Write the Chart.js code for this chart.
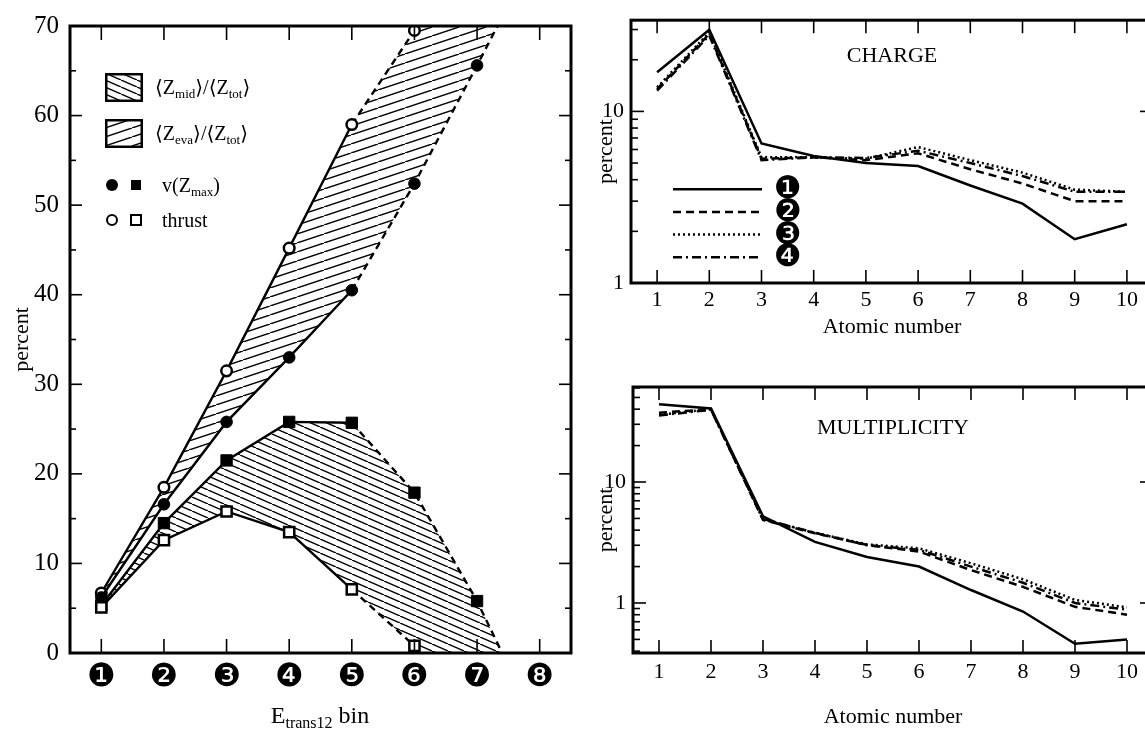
<!DOCTYPE html>
<html><head><meta charset="utf-8">
<script src="https://cdn.jsdelivr.net/npm/chart.js@4.4.1/dist/chart.umd.min.js"></script>
<style>
html,body{margin:0;padding:0;background:#fff;width:1145px;height:734px;overflow:hidden;position:relative;font-family:"Liberation Serif","DejaVu Serif",serif;color:#000;}
.box{position:absolute;}
.lt{position:absolute;font-size:20px;line-height:24px;white-space:nowrap;}
.lt sub{font-size:13px;vertical-align:-4px;line-height:0;}
.mk{position:absolute;box-sizing:border-box;}
.ttl{position:absolute;text-align:center;white-space:nowrap;}
</style></head><body>
<div class="box" style="left:0;top:0;width:590px;height:734px"><canvas id="cL"></canvas></div>
<div class="box" style="left:560px;top:0;width:600px;height:340px"><canvas id="cT"></canvas></div>
<div class="box" style="left:560px;top:360px;width:600px;height:374px"><canvas id="cB"></canvas></div>

<canvas id="sw1" width="38" height="29" style="position:absolute;left:105px;top:73px"></canvas>
<canvas id="sw2" width="38" height="29" style="position:absolute;left:105px;top:119px"></canvas>
<div class="lt" style="left:155px;top:75px">⟨Z<sub>mid</sub>⟩/⟨Z<sub>tot</sub>⟩</div>
<div class="lt" style="left:155px;top:121px">⟨Z<sub>eva</sub>⟩/⟨Z<sub>tot</sub>⟩</div>
<div class="mk" style="left:106px;top:179px;width:12px;height:12px;border-radius:50%;background:#000"></div>
<div class="mk" style="left:131px;top:180px;width:10px;height:10px;background:#000"></div>
<div class="lt" style="left:162px;top:173px">v(Z<sub>max</sub>)</div>
<div class="mk" style="left:106px;top:214px;width:12px;height:12px;border-radius:50%;border:2.5px solid #000;background:#fff"></div>
<div class="mk" style="left:130px;top:214px;width:12px;height:12px;border:2.5px solid #000;background:#fff"></div>
<div class="lt" style="left:162px;top:208px">thrust</div>
<div class="ttl" style="left:220px;width:200px;top:701px;font-size:24px;line-height:28px">E<sub style="font-size:16px;vertical-align:-5px;line-height:0">trans12</sub> bin</div>
<div class="ttl" style="left:792px;width:200px;top:42px;font-size:22px;line-height:26px">CHARGE</div>
<div class="ttl" style="left:793px;width:200px;top:414px;font-size:22px;line-height:26px">MULTIPLICITY</div>

<script>
// ---------- data: left panel ----------
const bins = [1, 2, 3, 4, 5, 6, 7, 8];
const binLabels = ['❶', '❷', '❸', '❹', '❺', '❻', '❼', '❽'];
const yTicksLeft = [0, 10, 20, 30, 40, 50, 60, 70];
const yMinorLeft = [5, 15, 25, 35, 45, 55, 65];
const thrustCircle = [6.7, 18.5, 31.5, 45.2, 59.0, 69.5];
const thrustCircleEdge = [[7.4, 88]];
const vmaxCircle = [6.2, 16.6, 25.8, 33.0, 40.5, 52.4, 65.6];
const vmaxCircleEdge = [[7.4, 71]];
const vmaxSquare = [5.3, 14.5, 21.5, 25.8, 25.7, 17.9, 5.8];
const vmaxSquareEdge = [[7.4, 0]];
const thrustSquare = [5.1, 12.6, 15.8, 13.5, 7.1, 0.8];
const thrustSquareEdge = [[6.1, 0], [7.4, 0]];

// ---------- data: right panels ----------
const atomicNumbers = [1, 2, 3, 4, 5, 6, 7, 8, 9, 10];
const lineLabels = ['❶', '❷', '❸', '❹'];
const logLabels = [0.1, 1, 10, 100];
const charge1 = [16.9, 29.9, 6.5, 5.5, 5.0, 4.8, 3.7, 2.9, 1.8, 2.2];
const charge2 = [13.5, 28.3, 5.3, 5.4, 5.2, 5.7, 4.6, 3.8, 3.0, 3.0];
const charge3 = [13.8, 28.9, 5.4, 5.4, 5.3, 6.2, 5.2, 4.4, 3.5, 3.4];
const charge4 = [13.2, 27.7, 5.2, 5.4, 5.35, 5.9, 5.0, 4.2, 3.4, 3.4];
const mult1 = [43.9, 40.6, 5.2, 3.2, 2.4, 2.0, 1.28, 0.85, 0.46, 0.50];
const mult2 = [37.4, 40.0, 4.85, 3.77, 3.02, 2.66, 1.87, 1.36, 0.93, 0.80];
const mult3 = [36.0, 40.0, 4.9, 3.8, 3.05, 2.83, 2.13, 1.57, 1.06, 0.92];
const mult4 = [35.5, 39.5, 4.95, 3.8, 3.0, 2.75, 2.0, 1.47, 1.0, 0.88];

const SERIF = 'Liberation Serif';
const BLACK = '#000';
const NONE = 'rgba(0,0,0,0)';

function hatchTile(w, h, dir) {
  const c = document.createElement('canvas'); c.width = w; c.height = h;
  const g = c.getContext('2d'); g.strokeStyle = BLACK; g.lineWidth = 1.4; g.beginPath();
  for (let k = -1; k <= 1; k++) {
    if (dir === 'up') { g.moveTo(k * w, h); g.lineTo(k * w + w, 0); }
    else { g.moveTo(k * w, 0); g.lineTo(k * w + w, h); }
  }
  g.stroke(); return c;
}
const tileUp = hatchTile(27, 9, 'up');
const tileDown = hatchTile(16, 7, 'down');
function swatch(id, tile) {
  const c = document.getElementById(id), g = c.getContext('2d');
  g.fillStyle = '#fff'; g.fillRect(0, 0, c.width, c.height);
  g.fillStyle = g.createPattern(tile, 'repeat'); g.fillRect(0, 0, c.width, c.height);
  g.lineWidth = 2.5; g.strokeStyle = BLACK; g.strokeRect(1.25, 1.25, c.width - 2.5, c.height - 2.5);
}
swatch('sw1', tileDown); swatch('sw2', tileUp);

function logMinor(min, max) {
  const out = [];
  for (let e = -2; e <= 3; e++) for (let m = 2; m <= 9; m++) { const v = m * Math.pow(10, e); if (v >= min && v <= max) out.push(v); }
  return out;
}

const framePlugin = {
  id: 'frame',
  afterDatasetsDraw(chart, args, o) {
    const { ctx, chartArea: a, scales: { x, y } } = chart;
    ctx.save(); ctx.strokeStyle = BLACK; ctx.lineWidth = 1.6;
    const seg = (x1, y1, x2, y2) => { ctx.beginPath(); ctx.moveTo(x1, y1); ctx.lineTo(x2, y2); ctx.stroke(); };
    for (const v of o.xTicks) { const p = x.getPixelForValue(v); seg(p, a.bottom, p, a.bottom - o.xLen); seg(p, a.top, p, a.top + o.xLen); }
    for (const [vals, len] of [[o.yMajor, o.majorLen], [o.yMinor, o.minorLen]]) {
      for (const v of vals) { const p = y.getPixelForValue(v); seg(a.left, p, a.left + len, p); seg(a.right, p, a.right - len, p); }
    }
    ctx.lineWidth = o.frameWidth; ctx.strokeRect(a.left, a.top, a.right - a.left, a.bottom - a.top);
    ctx.restore();
  }
};

const lineLegend = {
  id: 'lineLegend',
  afterDatasetsDraw(chart, args, o) {
    if (!o.show) return;
    const { ctx, chartArea: a } = chart;
    chart.data.datasets.forEach((ds, i) => {
      const yy = a.top + o.top + i * o.step;
      ctx.save(); ctx.strokeStyle = BLACK; ctx.lineWidth = ds.borderWidth; ctx.setLineDash(ds.borderDash || []);
      ctx.beginPath(); ctx.moveTo(a.left + o.left, yy); ctx.lineTo(a.left + o.left + o.len, yy); ctx.stroke();
      ctx.setLineDash([]); ctx.fillStyle = BLACK; ctx.font = '31px "DejaVu Sans"'; ctx.textAlign = 'center'; ctx.textBaseline = 'middle';
      ctx.fillText(ds.label, a.left + o.textX, yy + 1);
      ctx.restore();
    });
  }
};

function pts(xs, vals, edge) { return vals.map((v, i) => ({ x: xs[i], y: v })).concat(edge.map(([x, y]) => ({ x, y }))); }
const dashAfter5 = c => (c.p0.parsed.x >= 5 ? [7, 5] : undefined);

Chart.defaults.font.family = SERIF;
Chart.defaults.color = BLACK;

// ---------- left chart ----------
const cL = document.getElementById('cL');
const gL = cL.getContext('2d');
const patUp = gL.createPattern(tileUp, 'repeat');
const patDown = gL.createPattern(tileDown, 'repeat');

function lineDs(label, data, nReal, style, extra) {
  return Object.assign({
    label, data, borderColor: BLACK, borderWidth: 2.4, tension: 0, fill: false,
    pointRadius: c => (c.dataIndex < nReal ? style.r : 0),
    pointStyle: style.shape, pointBackgroundColor: style.bg, pointBorderColor: BLACK,
    pointBorderWidth: style.bw, segment: { borderDash: dashAfter5 }
  }, extra || {});
}
function bandDs(label, data, fill) {
  return { label, data, borderWidth: 0, borderColor: NONE, pointRadius: 0, tension: 0, fill: fill || false };
}

const thrustCirclePts = pts(bins, thrustCircle, thrustCircleEdge);
const vmaxCirclePts = pts(bins, vmaxCircle, vmaxCircleEdge);
const vmaxSquarePts = pts(bins, vmaxSquare, vmaxSquareEdge);
const thrustSquarePts = pts(bins, thrustSquare, thrustSquareEdge);

new Chart(cL, {
  type: 'line',
  data: {
    datasets: [
      lineDs('thrust (squares)', thrustSquarePts, thrustSquare.length,
        { r: 7.2, shape: 'rect', bg: '#fff', bw: 2.5 },
        { segment: { borderDash: dashAfter5, borderColor: c => (c.p0.parsed.x >= 6 ? NONE : BLACK) } }),
      lineDs('v(Zmax) (squares)', vmaxSquarePts, vmaxSquare.length, { r: 8, shape: 'rect', bg: BLACK, bw: 1 }),
      lineDs('v(Zmax) (circles)', vmaxCirclePts, vmaxCircle.length, { r: 5.8, shape: 'circle', bg: BLACK, bw: 1 }),
      lineDs('thrust (circles)', thrustCirclePts, thrustCircle.length, { r: 5.3, shape: 'circle', bg: '#fff', bw: 2.5 }),
      bandDs('Zeva band', thrustCirclePts, { target: 5, above: patUp, below: patUp }),
      bandDs('Zeva band base', vmaxCirclePts),
      bandDs('Zmid band', vmaxSquarePts, { target: 7, above: patDown, below: patDown }),
      bandDs('Zmid band base', thrustSquarePts)
    ]
  },
  options: {
    responsive: true, maintainAspectRatio: false, animation: false, events: [],
    layout: { padding: { top: 21, right: 19, bottom: 0, left: 0 } },
    plugins: {
      legend: { display: false }, tooltip: { enabled: false },
      frame: { xTicks: bins, xLen: 14, yMajor: yTicksLeft, yMinor: yMinorLeft, majorLen: 12, minorLen: 6, frameWidth: 3 }
    },
    scales: {
      x: {
        type: 'linear', min: 0.5, max: 8.5,
        afterBuildTicks: s => { s.ticks = bins.map(v => ({ value: v })); },
        afterFit: s => { s.height = 81; },
        grid: { display: false, drawTicks: false }, border: { display: false },
        ticks: { callback: v => binLabels[bins.indexOf(v)], font: { family: 'DejaVu Sans', size: 32, lineHeight: 1 }, color: BLACK, padding: 9, autoSkip: false, maxRotation: 0 }
      },
      y: {
        type: 'linear', min: 0, max: 70,
        afterBuildTicks: s => { s.ticks = yTicksLeft.map(v => ({ value: v })); },
        afterFit: s => { s.width = 70; },
        grid: { display: false, drawTicks: false }, border: { display: false },
        ticks: { font: { family: SERIF, size: 25 }, color: BLACK, padding: 11, autoSkip: false },
        title: { display: true, text: 'percent', font: { family: SERIF, size: 22, lineHeight: 1.2 }, color: BLACK, padding: { top: 9, bottom: 0 } }
      }
    }
  },
  plugins: [framePlugin]
});

// ---------- right charts ----------
const rightStyles = [
  { borderDash: [] },
  { borderDash: [8, 5] },
  { borderDash: [2, 3] },
  { borderDash: [9, 4, 2, 4] }
];
function rightChart(id, series, yMin, yMax, yWidth, padTop, xHeight, titlePadBottom, labelPad, legend) {
  new Chart(document.getElementById(id), {
    type: 'line',
    data: {
      datasets: series.map((vals, i) => ({
        label: lineLabels[i], data: pts(atomicNumbers, vals, []), borderColor: BLACK, borderWidth: 2.5,
        borderDash: rightStyles[i].borderDash, pointRadius: 0, tension: 0, fill: false
      }))
    },
    options: {
      responsive: true, maintainAspectRatio: false, animation: false, events: [],
      layout: { padding: { top: padTop, right: 7, bottom: 0, left: 0 } },
      plugins: {
        legend: { display: false }, tooltip: { enabled: false },
        frame: { xTicks: atomicNumbers, xLen: 13, yMajor: logLabels.filter(v => v >= yMin && v <= yMax), yMinor: logMinor(yMin, yMax), majorLen: 13, minorLen: 7, frameWidth: 3 },
        lineLegend: legend
      },
      scales: {
        x: {
          type: 'linear', min: 0.5, max: 10.5,
          afterBuildTicks: s => { s.ticks = atomicNumbers.map(v => ({ value: v })); },
          afterFit: s => { s.height = xHeight; },
          grid: { display: false, drawTicks: false }, border: { display: false },
          ticks: { font: { family: SERIF, size: 22 }, color: BLACK, padding: labelPad, autoSkip: false, maxRotation: 0 },
          title: { display: true, text: 'Atomic number', font: { family: SERIF, size: 22, lineHeight: 1.2 }, color: BLACK, padding: { top: 0, bottom: titlePadBottom } }
        },
        y: {
          type: 'logarithmic', min: yMin, max: yMax,
          afterBuildTicks: s => { s.ticks = logLabels.filter(v => v >= yMin && v <= yMax).map(v => ({ value: v })); },
          afterFit: s => { s.width = yWidth; },
          grid: { display: false, drawTicks: false }, border: { display: false },
          ticks: { callback: v => String(v), font: { family: SERIF, size: 22 }, color: BLACK, padding: 7, autoSkip: false },
          title: { display: true, text: 'percent', font: { family: SERIF, size: 22, lineHeight: 1.2 }, color: BLACK, padding: { top: 33, bottom: 0 } }
        }
      }
    },
    plugins: [framePlugin, lineLegend]
  });
}
rightChart('cT', [charge1, charge2, charge3, charge4], 1, 34, 71, 19, 57, 0, 4, { show: true, left: 42, len: 89, top: 169, step: 22.7, textX: 157 });
rightChart('cB', [mult1, mult2, mult3, mult4], 0.386, 61, 73, 27, 81, 4, 6, { show: false });
</script>
</body></html>
